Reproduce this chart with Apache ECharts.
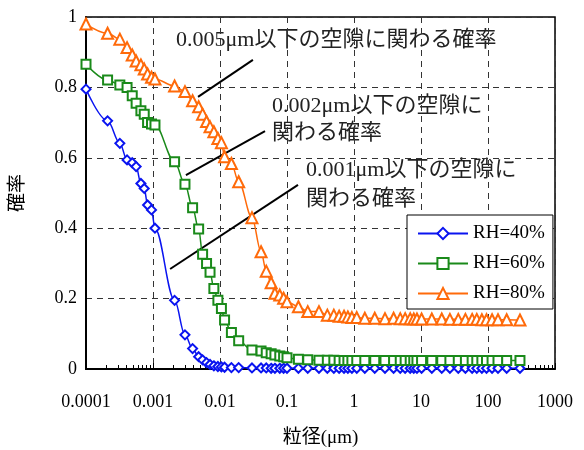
<!DOCTYPE html>
<html>
<head>
<meta charset="utf-8">
<script src="https://cdn.jsdelivr.net/npm/echarts@6/dist/echarts.min.js"></script>
<style>
html, body { margin: 0; padding: 0; background: #fff; }
#main { width: 584px; height: 450px; }
</style>
</head>
<body>
<div id="main"></div>
<script>
// 粒径 (μm) - shared measurement points
const sizes = [
  0.0001, 0.00021, 0.00032, 0.00041, 0.00049, 0.00056, 0.00066, 0.00074, 0.00083, 0.00095, 0.00107,
  0.0021, 0.0030, 0.0039, 0.0048, 0.0055, 0.0063, 0.0071, 0.0081, 0.0093, 0.0105,
  0.0117, 0.0148, 0.019, 0.030, 0.041, 0.049, 0.058, 0.066, 0.078, 0.089, 0.100,
  0.148, 0.204, 0.30, 0.40, 0.50, 0.60, 0.71, 0.81, 0.93,
  1.10, 1.45, 2.04, 2.9, 3.9, 4.9, 5.8, 6.9, 7.8, 8.7,
  10.2, 14.5, 20.4, 27, 36, 46, 58, 68, 81, 95,
  115, 141, 190, 300
]
const rh40 = [
  0.795, 0.705, 0.641, 0.594, 0.586, 0.575, 0.527, 0.513, 0.466, 0.452, 0.400,
  0.195, 0.097, 0.058, 0.035, 0.026, 0.018, 0.013, 0.009, 0.007, 0.006,
  0.005, 0.004, 0.004, 0.003, 0.003, 0.003, 0.002, 0.002, 0.002, 0.002, 0.002,
  0.002, 0.002, 0.002, 0.002, 0.002, 0.002, 0.002, 0.002, 0.002,
  0.002, 0.002, 0.002, 0.002, 0.002, 0.002, 0.002, 0.002, 0.002, 0.002,
  0.002, 0.002, 0.002, 0.002, 0.002, 0.002, 0.002, 0.002, 0.002, 0.002,
  0.002, 0.002, 0.002, 0.002
]
const rh60 = [
  0.866, 0.821, 0.807, 0.800, 0.776, 0.755, 0.734, 0.724, 0.700, 0.696, 0.693,
  0.589, 0.525, 0.458, 0.398, 0.326, 0.300, 0.275, 0.229, 0.195, 0.172,
  0.139, 0.104, 0.080, 0.054, 0.051, 0.046, 0.043, 0.040, 0.037, 0.035, 0.032,
  0.028, 0.026, 0.025, 0.025, 0.025, 0.024, 0.024, 0.024, 0.024,
  0.024, 0.024, 0.024, 0.024, 0.024, 0.024, 0.024, 0.024, 0.024, 0.024,
  0.024, 0.024, 0.024, 0.024, 0.024, 0.024, 0.024, 0.024, 0.024, 0.024,
  0.024, 0.024, 0.024, 0.024
]
const rh80 = [
  0.980, 0.954, 0.937, 0.913, 0.892, 0.875, 0.864, 0.852, 0.838, 0.829, 0.824,
  0.804, 0.788, 0.762, 0.745, 0.724, 0.703, 0.688, 0.674, 0.655, 0.643,
  0.603, 0.584, 0.532, 0.430, 0.333, 0.278, 0.245, 0.215, 0.210, 0.201, 0.191,
  0.177, 0.163, 0.163, 0.153, 0.153, 0.150, 0.150, 0.148, 0.146,
  0.146, 0.144, 0.144, 0.143, 0.144, 0.143, 0.143, 0.143, 0.142, 0.142,
  0.142, 0.142, 0.142, 0.141, 0.141, 0.141, 0.141, 0.141, 0.140, 0.140,
  0.140, 0.140, 0.140, 0.139
]
const seriesNames = ['RH=40%', 'RH=60%', 'RH=80%']
const xTickLabels = ['0.0001', '0.001', '0.01', '0.1', '1', '10', '100', '1000']

const serif = "'Liberation Serif', 'Noto Sans CJK JP', serif"

function pairs (ys) {
  return sizes.map((x, i) => [x, ys[i]])
}

function makeSeries (name, ys, color, symbol, size) {
  return {
    name: name,
    type: 'line',
    data: pairs(ys),
    smooth: 0.35,
    smoothMonotone: 'x',
    symbol: symbol,
    symbolSize: size,
    lineStyle: { color: color, width: 1.5 },
    itemStyle: { color: color, borderWidth: 1.5 },
    z: 5
  }
}

// annotation leader lines (data coords)
function leader (x1, y1, x2, y2) {
  return [{ coord: [x1, y1] }, { coord: [x2, y2] }]
}

let myChart = echarts.init(document.getElementById('main'), null, { renderer: 'canvas' })
let option = {
  animation: false,
  backgroundColor: '#fff',
  grid: {
    left: 86, right: 29, top: 17, bottom: 81,
    outerBoundsMode: 'none',
    containLabel: false,
    show: true, borderColor: '#000', borderWidth: 1.5
  },
  legend: {
    data: seriesNames,
    orient: 'vertical',
    left: 407,
    top: 215,
    backgroundColor: '#fff',
    borderColor: '#000',
    borderWidth: 1,
    borderRadius: 0,
    padding: [9, 8, 6, 10],
    itemWidth: 50,
    itemHeight: 14,
    itemGap: 11,
    textStyle: { fontFamily: serif, fontSize: 19, color: '#000' }
  },
  xAxis: {
    type: 'log',
    logBase: 10,
    min: 0.0001,
    max: 1000,
    name: '粒径(μm)',
    nameLocation: 'middle',
    nameGap: 60,
    nameTextStyle: { fontFamily: serif, fontSize: 19, color: '#000' },
    axisLine: { lineStyle: { color: '#000', width: 2 } },
    axisTick: { inside: true, length: 6, lineStyle: { color: '#000' } },
    minorTick: { show: true, splitNumber: 9, length: 4, lineStyle: { color: '#000' } },
    axisLabel: {
      fontFamily: serif, fontSize: 18, color: '#000', margin: 24,
      formatter: function (v) {
        return xTickLabels[Math.round(Math.log10(v)) + 4]
      }
    },
    splitLine: { show: true, lineStyle: { color: '#333', type: [6, 5], width: 1 } }
  },
  yAxis: {
    type: 'value',
    min: 0,
    max: 1,
    interval: 0.2,
    name: '確率',
    nameLocation: 'middle',
    nameGap: 58,
    nameTextStyle: { fontFamily: serif, fontSize: 19, color: '#000' },
    axisLine: { show: true, lineStyle: { color: '#000', width: 2 } },
    axisTick: { show: false },
    axisLabel: { fontFamily: serif, fontSize: 18, color: '#000', margin: 9 },
    splitLine: { show: true, lineStyle: { color: '#333', type: [6, 5], width: 1 } }
  },
  series: [
    makeSeries(seriesNames[0], rh40, '#0a14f0', 'emptyDiamond', 9),
    makeSeries(seriesNames[1], rh60, '#1a8a1a', 'emptyRect', 9),
    makeSeries(seriesNames[2], rh80, '#ff6a0a', 'emptyTriangle', 11),
    {
      type: 'line',
      data: [],
      silent: true,
      markLine: {
        silent: true,
        symbol: 'none',
        label: { show: false },
        lineStyle: { color: '#000', width: 2, type: 'solid' },
        data: [
          leader(0.0047, 0.773, 0.031, 0.878),
          leader(0.0031, 0.551, 0.047, 0.676),
          leader(0.0018, 0.284, 0.146, 0.523)
        ]
      }
    }
  ],
  graphic: [
    { type: 'text', left: 176, top: 29, style: { text: '0.005μm以下の空隙に関わる確率', font: '22px ' + serif, fill: '#222' } },
    { type: 'text', left: 272, top: 93, style: { text: '0.002μm以下の空隙に\n関わる確率', font: '22px ' + serif, fill: '#222', lineHeight: 27 } },
    { type: 'text', left: 306, top: 156, style: { text: '0.001μm以下の空隙に\n関わる確率', font: '22px ' + serif, fill: '#222', lineHeight: 29 } }
  ]
}
myChart.setOption(option)
window.addEventListener('resize', function () {
  myChart.resize()
})
</script>
</body>
</html>
